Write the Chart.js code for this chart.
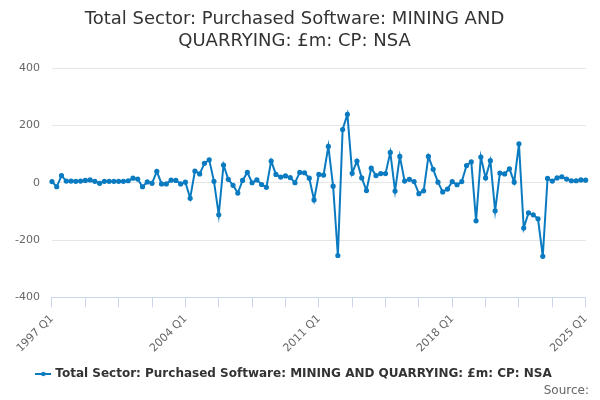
<!DOCTYPE html>
<html>
<head>
<meta charset="utf-8">
<script src="https://cdn.jsdelivr.net/npm/chart.js@4/dist/chart.umd.min.js"></script>
<style>
  body { margin: 0; background: #fff; }
  #wrap { width: 600px; height: 400px; }
</style>
</head>
<body>
<div id="wrap"><canvas id="grafico" width="600" height="400"></canvas></div>
<script>
// ************************* DATOS *************************
const titulo = ["Total Sector: Purchased Software: MINING AND", "QUARRYING: £m: CP: NSA"];
const serie = "Total Sector: Purchased Software: MINING AND QUARRYING: £m: CP: NSA";
const fuente = "Source:";
const primerAnio = 1997;
const ultimoAnio = 2025;
const etiquetasEje = ["1997 Q1", "2004 Q1", "2011 Q1", "2018 Q1", "2025 Q1"];
const ticksY = [-400, -200, 0, 200, 400];

// valores trimestrales, 1997 Q1 a 2025 Q1
const valores = [
  4, -14, 25, 6, 6, 5, 6, 8, 10, 5, -2, 5, 5, 5, 5, 5, 7, 16, 13, -14,
  3, -2, 40, -4, -4, 9, 8, -4, 2, -54, 41, 31, 68, 80, 5, -112, 62, 12, -9, -36,
  8, 36, 0, 10, -6, -16, 76, 29, 20, 24, 18, 0, 36, 35, 16, -60, 29, 27, 127, -12,
  -254, 186, 239, 33, 76, 17, -27, 51, 25, 32, 32, 106, -29, 92, 6, 12, 4, -38, -28, 92,
  47, 2, -32, -22, 4, -7, 4, 60, 73, -133, 90, 17, 77, -98, 34, 31, 49, 2, 136, -158,
  -105, -112, -126, -257, 15, 6, 17, 21, 13, 7, 7, 10, 9
];

// etiquetas de trimestre
const trimestres = [];
for (let a = primerAnio; a <= ultimoAnio; a++) {
  for (let q = 1; q <= 4; q++) {
    if (a === ultimoAnio && q > 1) break;
    trimestres.push(a + " Q" + q);
  }
}

const azul = "#0b7bc1";

// símbolo de la leyenda: línea con punto
function simboloLeyenda() {
  const c = document.createElement("canvas");
  c.width = 16;
  c.height = 10;
  const ctx = c.getContext("2d");
  ctx.strokeStyle = azul;
  ctx.lineWidth = 2;
  ctx.beginPath();
  ctx.moveTo(0, 5);
  ctx.lineTo(16, 5);
  ctx.stroke();
  ctx.fillStyle = azul;
  ctx.beginPath();
  ctx.arc(8, 5, 2.2, 0, Math.PI * 2);
  ctx.fill();
  return c;
}

// texto "Source:" abajo a la derecha
const pluginFuente = {
  id: "fuente",
  afterDraw(chart) {
    const ctx = chart.ctx;
    ctx.save();
    ctx.font = "12px 'DejaVu Sans', sans-serif";
    ctx.fillStyle = "#666666";
    ctx.textAlign = "right";
    ctx.textBaseline = "middle";
    ctx.fillText(fuente, 589, 391);
    ctx.restore();
  },
};

Chart.defaults.font.family = "'DejaVu Sans', sans-serif";

new Chart(document.getElementById("grafico"), {
  type: "line",
  data: {
    labels: trimestres,
    datasets: [
      {
        label: serie,
        data: valores,
        borderColor: azul,
        backgroundColor: azul,
        borderWidth: 2,
        pointRadius: 1.6,
        pointHoverRadius: 2,
        tension: 0,
        fill: false,
      },
    ],
  },
  options: {
    responsive: false,
    animation: false,
    layout: { padding: { left: 3, right: 14, top: 4, bottom: 10 } },
    plugins: {
      title: {
        display: true,
        text: titulo,
        color: "#333333",
        font: { size: 18, weight: "normal" },
        padding: { top: 5, bottom: 16 },
      },
      legend: {
        position: "bottom",
        labels: {
          usePointStyle: true,
          pointStyle: simboloLeyenda(),
          color: "#333333",
          font: { size: 12, weight: "bold" },
          padding: 8,
        },
      },
      tooltip: { enabled: false },
    },
    scales: {
      x: {
        grid: {
          drawOnChartArea: false,
          drawTicks: true,
          tickLength: 10,
          color: (ctx) => (ctx.index % 7 === 0 ? "#ccd6eb" : "rgba(0,0,0,0)"),
        },
        border: { display: true, color: "#ccd6eb" },
        ticks: {
          autoSkip: false,
          minRotation: 45,
          maxRotation: 45,
          color: "#666666",
          font: { size: 11 },
          padding: 5,
          callback: function (val, index) {
            const lab = this.getLabelForValue(val);
            return etiquetasEje.includes(lab) ? lab : "";
          },
        },
      },
      y: {
        min: ticksY[0],
        max: ticksY[ticksY.length - 1],
        afterBuildTicks: (axis) => {
          axis.ticks = ticksY.map((v) => ({ value: v }));
        },
        grid: { color: "#e6e6e6", drawTicks: false },
        border: { display: false },
        ticks: { color: "#666666", font: { size: 11 }, padding: 12 },
      },
    },
  },
  plugins: [pluginFuente],
});
</script>
</body>
</html>
